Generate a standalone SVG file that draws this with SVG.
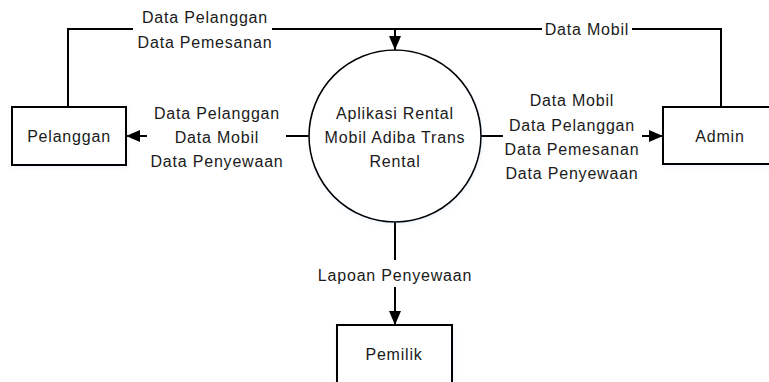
<svg xmlns="http://www.w3.org/2000/svg" width="769" height="382" viewBox="0 0 769 382">
<style>
.t{font-family:"Liberation Sans",Arial,sans-serif;font-size:16px;fill:#1a1a1a;text-anchor:middle;letter-spacing:0.8px}
.shape{fill:#fff;stroke:#000;stroke-width:2}
.circ{fill:#fff;stroke:#000;stroke-width:1.6}
.ln{fill:none;stroke:#000;stroke-width:2}
</style>
<defs>
<marker id="ah" viewBox="0 0 14 12" refX="14" refY="6" markerWidth="14" markerHeight="12" markerUnits="userSpaceOnUse" orient="auto">
<path d="M0,0 L14,6 L0,12 Z" fill="#000"/>
</marker>
<filter id="sh" x="-20%" y="-20%" width="140%" height="140%">
<feGaussianBlur in="SourceAlpha" stdDeviation="2"/>
<feOffset dx="1" dy="2"/>
<feComponentTransfer><feFuncA type="linear" slope="0.15"/></feComponentTransfer>
<feColorMatrix type="matrix" values="0 0 0 0 0.3 0 0 0 0 0.5 0 0 0 0 0.8 0 0 0 1 0"/>
<feMerge><feMergeNode/><feMergeNode in="SourceGraphic"/></feMerge>
</filter>
</defs>
<g id="connectors">
<path class="ln" d="M68,107 V29 H133"/>
<path class="ln" d="M272,29 H542"/>
<path class="ln" d="M632,29 H721 V107"/>
<path class="ln" d="M395,29 V50" marker-end="url(#ah)"/>
<path class="ln" d="M309,136 H286"/>
<path class="ln" d="M147,136 H126" marker-end="url(#ah)"/>
<path class="ln" d="M481,136 H503"/>
<path class="ln" d="M642,136 H663" marker-end="url(#ah)"/>
<path class="ln" d="M395,222 V260"/>
<path class="ln" d="M395,287 V325" marker-end="url(#ah)"/>
<text class="t" x="205" y="23">Data Pelanggan</text>
<text class="t" x="205" y="48">Data Pemesanan</text>
<text class="t" x="587" y="35">Data Mobil</text>
<text class="t" x="217" y="119">Data Pelanggan</text>
<text class="t" x="217" y="143">Data Mobil</text>
<text class="t" x="217" y="167">Data Penyewaan</text>
<text class="t" x="572" y="106">Data Mobil</text>
<text class="t" x="572" y="131">Data Pelanggan</text>
<text class="t" x="572" y="155">Data Pemesanan</text>
<text class="t" x="572" y="179">Data Penyewaan</text>
<text class="t" x="395" y="281">Lapoan Penyewaan</text>
</g>
<g id="proses">
<circle class="circ" cx="395" cy="136" r="86" filter="url(#sh)"/>
<text class="t" x="395" y="119">Aplikasi Rental</text>
<text class="t" x="395" y="143">Mobil Adiba Trans</text>
<text class="t" x="395" y="167">Rental</text>
</g>
<g id="pelanggan">
<rect class="shape" x="12" y="107" width="114" height="58" filter="url(#sh)"/>
<text class="t" x="69" y="142">Pelanggan</text>
</g>
<g id="admin">
<rect class="shape" x="663" y="107" width="114" height="57" filter="url(#sh)"/>
<text class="t" x="720" y="142">Admin</text>
</g>
<g id="pemilik">
<rect class="shape" x="337" y="325" width="115" height="58" filter="url(#sh)"/>
<text class="t" x="394" y="360">Pemilik</text>
</g>
</svg>
